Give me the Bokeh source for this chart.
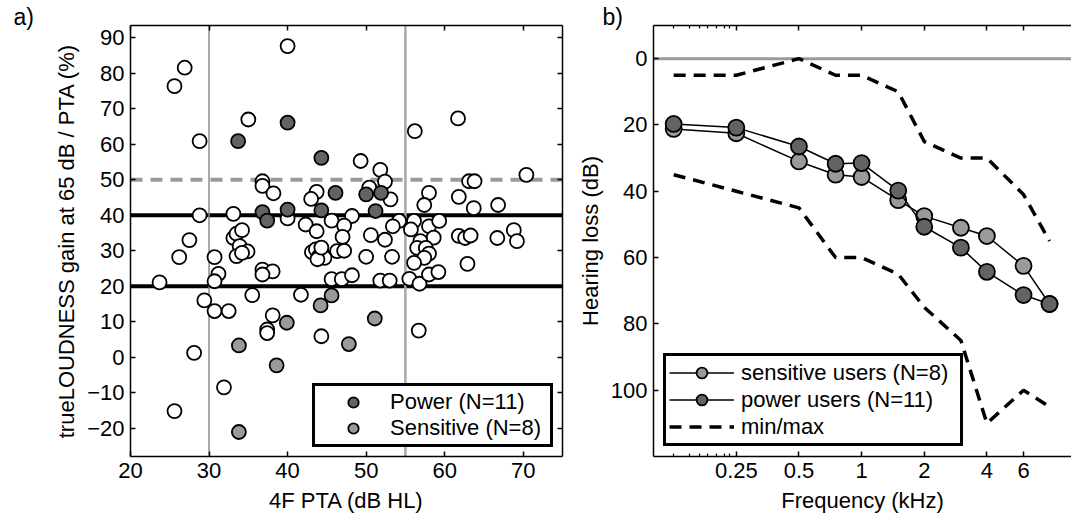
from bokeh.plotting import figure
from bokeh.models import (Range1d, FixedTicker, LinearAxis, LogAxis, Span, Legend,
                          LegendItem, CustomJSTickFormatter, CustomLabelingPolicy)
from bokeh.layouts import row
from bokeh.embed import file_html
from bokeh.resources import INLINE

FONT = "Liberation Sans"
FS = "22px"

# ---------------- panel a data ----------------
other_pta = [40.0, 26.9, 25.6, 35.0, 28.8, 61.7, 56.2, 70.4, 49.3, 51.8,
             36.8, 36.8, 38.2, 43.7, 43.0, 52.4, 50.4, 53.1, 63.1, 63.8,
             58.0, 61.8, 57.4, 63.7, 66.8,
             28.8, 33.1, 40.0, 48.2, 42.3, 43.7, 45.6, 47.2, 54.2, 53.4,
             56.1, 55.7, 58.0, 59.3,
             27.5, 33.1, 33.5, 34.2, 33.9, 34.9, 33.5, 34.2, 26.2, 30.7,
             47.0, 50.6, 52.4, 58.6, 56.9, 56.5, 57.6, 58.0, 57.4, 56.1,
             61.8, 62.6, 63.3, 66.7, 68.8, 69.2, 62.9,
             43.1, 43.6, 44.0, 44.4, 44.7, 43.8, 44.3, 46.3, 47.2, 50.0, 53.3,
             36.8, 38.1, 36.8, 31.2, 30.7, 23.7, 45.6, 46.9, 48.2, 51.8,
             53.0, 55.5, 56.8, 58.0, 59.2,
             35.5, 41.7, 29.4, 30.7, 32.5, 38.1, 37.4, 37.4, 28.1, 31.9,
             25.6, 44.3, 56.7]
other_gain = [87.7, 81.6, 76.4, 67.0, 60.9, 67.3, 63.7, 51.4, 55.3, 52.8,
              49.6, 48.3, 46.2, 46.6, 44.6, 49.5, 47.8, 44.5, 49.6, 49.6,
              46.3, 45.2, 42.9, 42.0, 42.9,
              40.0, 40.4, 39.1, 39.8, 37.4, 35.5, 38.5, 37.1, 38.4, 36.9,
              38.4, 36.0, 36.9, 38.4,
              33.0, 33.6, 34.8, 35.8, 31.3, 29.8, 28.5, 29.4, 28.2, 28.2,
              33.9, 34.4, 33.1, 33.7, 32.7, 30.8, 30.8, 29.2, 28.0, 26.6,
              34.2, 33.6, 34.3, 33.6, 35.8, 32.7, 26.3,
              29.6, 30.4, 28.4, 29.3, 28.0, 27.6, 30.9, 29.9, 30.0, 28.3, 28.3,
              24.7, 24.2, 23.3, 23.5, 21.4, 21.1, 22.0, 22.0, 23.1, 21.6,
              21.6, 22.1, 20.7, 23.3, 24.0,
              17.5, 17.6, 16.0, 13.0, 13.0, 11.8, 7.8, 6.8, 1.2, -8.5,
              -15.2, 5.9, 7.5]
power_pta = [33.7, 40.0, 44.3, 46.1, 50.0, 51.9, 36.8, 37.4, 40.0, 44.3, 51.2]
power_gain = [60.9, 66.1, 56.2, 46.3, 45.9, 46.3, 40.9, 38.5, 41.6, 41.4, 41.2]
sens_pta = [33.8, 33.8, 38.6, 39.9, 44.2, 45.6, 47.8, 51.1]
sens_gain = [3.3, -21.1, -2.3, 9.7, 14.6, 17.4, 3.7, 10.9]
gain_solid_lines = [20, 40]
gain_dashed_lines = [50]
pta_lines = [30, 55]
a_xticks = [20, 30, 40, 50, 60, 70]
a_yticks = [-20, -10, 0, 10, 20, 30, 40, 50, 60, 70, 80, 90]

# ---------------- panel b data ----------------
freq = [0.125, 0.25, 0.5, 0.75, 1, 1.5, 2, 3, 4, 6, 8]
sens_hl = [21.2, 22.5, 31.0, 35.0, 35.7, 42.7, 47.5, 51.0, 53.5, 62.5, 74.0]
power_hl = [19.7, 20.8, 26.5, 31.7, 31.5, 39.8, 50.7, 57.0, 64.3, 71.3, 74.0]
min_hl = [5, 5, 0, 5, 5, 10, 25, 30, 30, 41, 55]
max_hl = [35, 40, 45, 60, 60, 65, 75, 85, 110, 100, 105]
b_xticks = [0.25, 0.5, 1, 2, 4, 6]
b_xminor = [0.125, 0.149, 0.166, 0.181, 0.2, 0.219, 0.233]
b_yticks = [0, 20, 40, 60, 80, 100]

DARK = "#636363"
LIGHT = "#9a9a9a"
GRAY = "#9a9a9a"


def style_axis(ax, show_labels=True):
    ax.axis_line_color = "black"
    ax.axis_line_width = 1.5
    ax.major_tick_line_color = "black"
    ax.major_tick_line_width = 1.5
    ax.major_tick_in = 5
    ax.major_tick_out = 0
    ax.minor_tick_line_color = None
    ax.major_label_text_font = FONT
    ax.axis_label_text_font = FONT
    ax.axis_label_text_font_style = "normal"
    ax.axis_label_text_font_size = FS
    ax.axis_label_text_color = "black"
    ax.major_label_text_color = "black"
    if show_labels:
        ax.major_label_text_font_size = FS
        ax.major_label_standoff = 6
    else:
        ax.major_label_text_font_size = "1px"
        ax.major_label_standoff = 0
        ax.major_label_policy = CustomLabelingPolicy(code="return new Set();")


def style_title(p, text, offset):
    p.title.text = text
    p.title.align = "left"
    p.title.offset = offset
    p.title.standoff = -16
    p.title.text_font = FONT
    p.title.text_font_size = "23px"
    p.title.text_font_style = "normal"
    p.title.text_color = "black"
    p.title.vertical_align = "bottom"


minus_fmt = "return String(tick).replace('-', '\u2212');"

# ---------------- panel a ----------------
pa = figure(output_backend="svg", toolbar_location=None,
            frame_width=432, frame_height=431,
            min_border_left=130, min_border_right=10,
            min_border_top=25, min_border_bottom=52,
            x_range=Range1d(20, 75), y_range=Range1d(-28, 93.5),
            background_fill_color="white", border_fill_color="white")
pa.outline_line_color = None
pa.grid.visible = False
style_title(pa, "a)", -117)

for ax in pa.xaxis:
    ax.ticker = FixedTicker(ticks=a_xticks)
    ax.axis_label = "4F PTA (dB HL)"
    ax.axis_label_standoff = 7
    style_axis(ax)
for ax in pa.yaxis:
    ax.ticker = FixedTicker(ticks=a_yticks)
    ax.formatter = CustomJSTickFormatter(code=minus_fmt)
    ax.axis_label = "trueLOUDNESS gain at 65 dB / PTA (%)"
    ax.axis_label_standoff = 5
    style_axis(ax)

top_a = LinearAxis(ticker=FixedTicker(ticks=a_xticks))
style_axis(top_a, False)
pa.add_layout(top_a, "above")
right_a = LinearAxis(ticker=FixedTicker(ticks=a_yticks))
style_axis(right_a, False)
pa.add_layout(right_a, "right")

for v in gain_solid_lines:
    pa.add_layout(Span(location=v, dimension="width", line_color="black",
                       line_width=4, level="underlay"))
for v in gain_dashed_lines:
    pa.add_layout(Span(location=v, dimension="width", line_color=GRAY,
                       line_width=4, line_dash="12 8", level="underlay"))
pa.add_layout(Span(location=pta_lines[0], dimension="height", line_color="#8a8a8a",
                   line_width=1.5, level="underlay"))
pa.add_layout(Span(location=pta_lines[1], dimension="height", line_color="#a8a8a8",
                   line_width=2.5, level="underlay"))

pa.scatter(other_pta, other_gain, marker="circle", size=14, fill_color="white",
           line_color="black", line_width=1.8)
r_pow = pa.scatter(power_pta, power_gain, marker="circle", size=14, fill_color=DARK,
                   line_color="black", line_width=1.8)
r_sens = pa.scatter(sens_pta, sens_gain, marker="circle", size=14, fill_color=LIGHT,
                    line_color="black", line_width=1.8)

leg_a = Legend(items=[LegendItem(label="Power (N=11)", renderers=[r_pow]),
                      LegendItem(label="Sensitive (N=8)", renderers=[r_sens])],
               location="bottom_right", margin=9, padding=3, spacing=0,
               glyph_height=26, glyph_width=70, label_standoff=2,
               label_width=157, label_height=24,
               label_text_font=FONT, label_text_font_size=FS,
               label_text_color="black",
               border_line_color="black", border_line_width=3, border_line_alpha=1,
               background_fill_color="white", background_fill_alpha=1)
pa.add_layout(leg_a)

# ---------------- panel b ----------------
pb = figure(output_backend="svg", toolbar_location=None,
            frame_width=418, frame_height=431,
            min_border_left=81, min_border_right=0,
            min_border_top=25, min_border_bottom=52,
            x_axis_type="log",
            x_range=Range1d(0.1, 10.2), y_range=Range1d(120, -10),
            background_fill_color="white", border_fill_color="white")
pb.outline_line_color = None
pb.grid.visible = False
style_title(pb, "b)", -51)

xfmt = "return String(tick);"
for ax in pb.xaxis:
    ax.ticker = FixedTicker(ticks=b_xticks, minor_ticks=b_xminor)
    ax.formatter = CustomJSTickFormatter(code=xfmt)
    ax.axis_label = "Frequency (kHz)"
    ax.axis_label_standoff = 7
    style_axis(ax)
    ax.minor_tick_line_color = "black"
    ax.minor_tick_line_width = 1.2
    ax.minor_tick_in = 3
    ax.minor_tick_out = 0
for ax in pb.yaxis:
    ax.ticker = FixedTicker(ticks=b_yticks)
    ax.axis_label = "Hearing loss (dB)"
    ax.axis_label_standoff = 5
    style_axis(ax)

top_b = LogAxis(ticker=FixedTicker(ticks=b_xticks, minor_ticks=b_xminor))
style_axis(top_b, False)
top_b.minor_tick_line_color = "black"
top_b.minor_tick_line_width = 1.2
top_b.minor_tick_in = 3
top_b.minor_tick_out = 0
pb.add_layout(top_b, "above")

pb.add_layout(Span(location=0, dimension="width", line_color=GRAY,
                   line_width=3, level="underlay"))

r_min = pb.line(freq, min_hl, line_color="black", line_width=3.5, line_dash="12 8")
pb.line(freq, max_hl, line_color="black", line_width=3.5, line_dash="12 8")

l_sens = pb.line(freq, sens_hl, line_color="black", line_width=1.5)
c_sens = pb.scatter(freq, sens_hl, marker="circle", size=16, fill_color=LIGHT,
                    line_color="black", line_width=1.8)
l_pow = pb.line(freq, power_hl, line_color="black", line_width=1.5)
c_pow = pb.scatter(freq, power_hl, marker="circle", size=16, fill_color=DARK,
                   line_color="black", line_width=1.8)

leg_b = Legend(items=[LegendItem(label="sensitive users (N=8)", renderers=[l_sens, c_sens]),
                      LegendItem(label="power users (N=11)", renderers=[l_pow, c_pow]),
                      LegendItem(label="min/max", renderers=[r_min])],
               location="bottom_left", margin=10, padding=3, spacing=0,
               glyph_height=27, glyph_width=65, label_standoff=7,
               label_width=216, label_height=24,
               label_text_font=FONT, label_text_font_size=FS,
               label_text_color="black",
               border_line_color="black", border_line_width=3, border_line_alpha=1,
               background_fill_color="white", background_fill_alpha=1)
pb.add_layout(leg_b)

layout = row(pa, pb)
open("out.html", "w").write(file_html(layout, INLINE))
